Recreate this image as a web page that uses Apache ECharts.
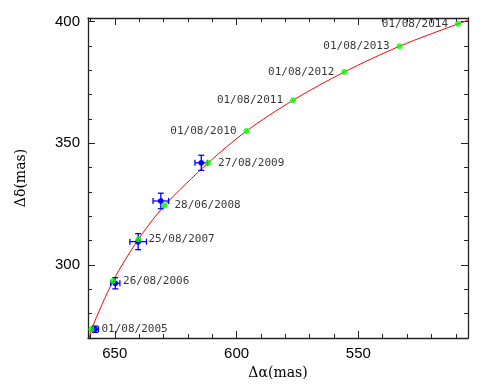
<!DOCTYPE html>
<html>
<head>
    <title>Orbit</title>
    <meta http-equiv="Content-Type" content="text/html; charset=utf-8" />
    <script src="https://cdn.jsdelivr.net/npm/echarts@6/dist/echarts.min.js"></script>
    <style>
        html, body { margin: 0; padding: 0; background: #fff; }
        #div_echart { width: 496px; height: 387px; }
    </style>
    <script>
        // predicted positions (green) with dates
        var dates = ['01/08/2005', '26/08/2006', '25/08/2007', '28/06/2008', '27/08/2009',
                     '01/08/2010', '01/08/2011', '01/08/2012', '01/08/2013', '01/08/2014'];
        var modelRA = [659.6, 650.7, 640.3, 629.6, 611.7, 595.9, 576.8, 555.8, 533.1, 509.1];
        var modelDec = [273.6, 293.4, 310.6, 324.4, 341.9, 355.1, 367.7, 379.3, 389.9, 399.1];

        // measured positions (blue) with errors
        var obsRA = [658.1, 649.8, 640.4, 631.1, 614.5];
        var obsDec = [273.6, 292.5, 309.6, 326.3, 342.0];
        var obsRAErr = [1.4, 1.9, 3.4, 3.2, 2.6];
        var obsDecErr = [1.3, 2.3, 3.3, 3.2, 3.1];

        // red orbit curve
        var curveRA = [660.5, 659.6, 650.7, 640.3, 629.6, 611.7, 595.9, 576.8, 555.8, 533.1, 509.1, 504.7];
        var curveDec = [270.0, 273.6, 293.4, 310.6, 324.4, 341.9, 355.1, 367.7, 379.3, 389.9, 399.1, 400.7];

        // ticks
        var xMajor = [550, 600, 650];
        var xMinor = [510, 520, 530, 540, 560, 570, 580, 590, 610, 620, 630, 640, 660];
        var yMajor = [300, 350, 400];
        var yMinor = [270, 280, 290, 310, 320, 330, 340, 360, 370, 380, 390];

        document.addEventListener('DOMContentLoaded', function () {
            EchartInit();
        });

        function makeX(pos, ticks, len, main) {
            return {
                type: 'value', position: pos, min: 505, max: 661, inverse: true,
                axisLine: { show: main, lineStyle: { color: '#222', width: 1.3 } },
                axisTick: { show: true, inside: true, length: len, customValues: ticks,
                            lineStyle: { color: '#222', width: 1 } },
                axisLabel: { show: main && pos === 'bottom', customValues: ticks, margin: 8,
                             color: '#000', fontSize: 15, fontFamily: 'Liberation Sans' },
                splitLine: { show: false },
                name: (main && pos === 'bottom') ? 'Δα(mas)' : '',
                nameLocation: 'middle', nameGap: 18,
                nameTextStyle: { color: '#000', fontSize: 14, fontFamily: 'DejaVu Serif' }
            };
        }

        function makeY(pos, ticks, len, main) {
            return {
                type: 'value', position: pos, min: 270, max: 401.5,
                axisLine: { show: main, lineStyle: { color: '#222', width: 1.3 } },
                axisTick: { show: true, inside: true, length: len, customValues: ticks,
                            lineStyle: { color: '#222', width: 1 } },
                axisLabel: { show: main && pos === 'left', customValues: ticks, margin: 8,
                             color: '#000', fontSize: 15, fontFamily: 'Liberation Sans' },
                splitLine: { show: false },
                name: (main && pos === 'left') ? 'Δδ(mas)' : '',
                nameLocation: 'middle', nameGap: 60,
                nameTextStyle: { color: '#000', fontSize: 14, fontFamily: 'DejaVu Serif' }
            };
        }

        function EchartInit() {
            var dom = document.getElementById("div_echart");
            var mychart = echarts.init(dom);

            var curve = [];
            for (var i = 0; i < curveRA.length; i++) curve.push([curveRA[i], curveDec[i]]);

            var obs = [];
            for (var i = 0; i < obsRA.length; i++) obs.push([obsRA[i], obsDec[i], obsRAErr[i], obsDecErr[i]]);

            var model = [];
            for (var i = 0; i < modelRA.length; i++) {
                model.push({
                    value: [modelRA[i], modelDec[i]],
                    name: dates[i],
                    label: { position: i < obsRA.length ? 'right' : 'left' }
                });
            }

            var option = {
                animation: false,
                backgroundColor: '#fff',
                grid: { left: 88, right: 28, top: 18, bottom: 49 },
                xAxis: [
                    makeX('bottom', xMajor, 7, true),
                    makeX('bottom', xMinor, 4, false),
                    makeX('top', xMajor, 7, true),
                    makeX('top', xMinor, 4, false)
                ],
                yAxis: [
                    makeY('left', yMajor, 7, true),
                    makeY('left', yMinor, 4, false),
                    makeY('right', yMajor, 7, true),
                    makeY('right', yMinor, 4, false)
                ],
                series: [
                    {
                        type: 'line',
                        data: curve,
                        smooth: 0.3,
                        showSymbol: false,
                        lineStyle: { color: '#ff0000', width: 1 },
                        z: 1
                    },
                    {
                        type: 'custom',
                        data: obs,
                        z: 2,
                        renderItem: function (params, api) {
                            var x = api.value(0), y = api.value(1), ex = api.value(2), ey = api.value(3);
                            var c = api.coord([x, y]);
                            var l = api.coord([x + ex, y]);
                            var r = api.coord([x - ex, y]);
                            var t = api.coord([x, y + ey]);
                            var b = api.coord([x, y - ey]);
                            var cap = 3;
                            var st = { stroke: '#0000ff', lineWidth: 1.3 };
                            return {
                                type: 'group',
                                children: [
                                    { type: 'line', shape: { x1: l[0], y1: l[1], x2: r[0], y2: r[1] }, style: st },
                                    { type: 'line', shape: { x1: t[0], y1: t[1], x2: b[0], y2: b[1] }, style: st },
                                    { type: 'line', shape: { x1: l[0], y1: l[1] - cap, x2: l[0], y2: l[1] + cap }, style: st },
                                    { type: 'line', shape: { x1: r[0], y1: r[1] - cap, x2: r[0], y2: r[1] + cap }, style: st },
                                    { type: 'line', shape: { x1: t[0] - cap, y1: t[1], x2: t[0] + cap, y2: t[1] }, style: st },
                                    { type: 'line', shape: { x1: b[0] - cap, y1: b[1], x2: b[0] + cap, y2: b[1] }, style: st },
                                    { type: 'circle', shape: { cx: c[0], cy: c[1], r: 2.8 }, style: { fill: '#0000ff' } }
                                ]
                            };
                        }
                    },
                    {
                        type: 'scatter',
                        data: model,
                        symbolSize: 6,
                        itemStyle: { color: '#00ff00' },
                        z: 3,
                        label: {
                            show: true,
                            distance: 7,
                            formatter: '{b}',
                            color: '#000',
                            fontSize: 11,
                            fontFamily: 'DejaVu Sans Mono'
                        }
                    }
                ]
            };

            if (option && typeof option === "object") {
                mychart.setOption(option, true);
            }
        }
    </script>
</head>

<body>
    <div id="div_echart"></div>
</body>
</html>
